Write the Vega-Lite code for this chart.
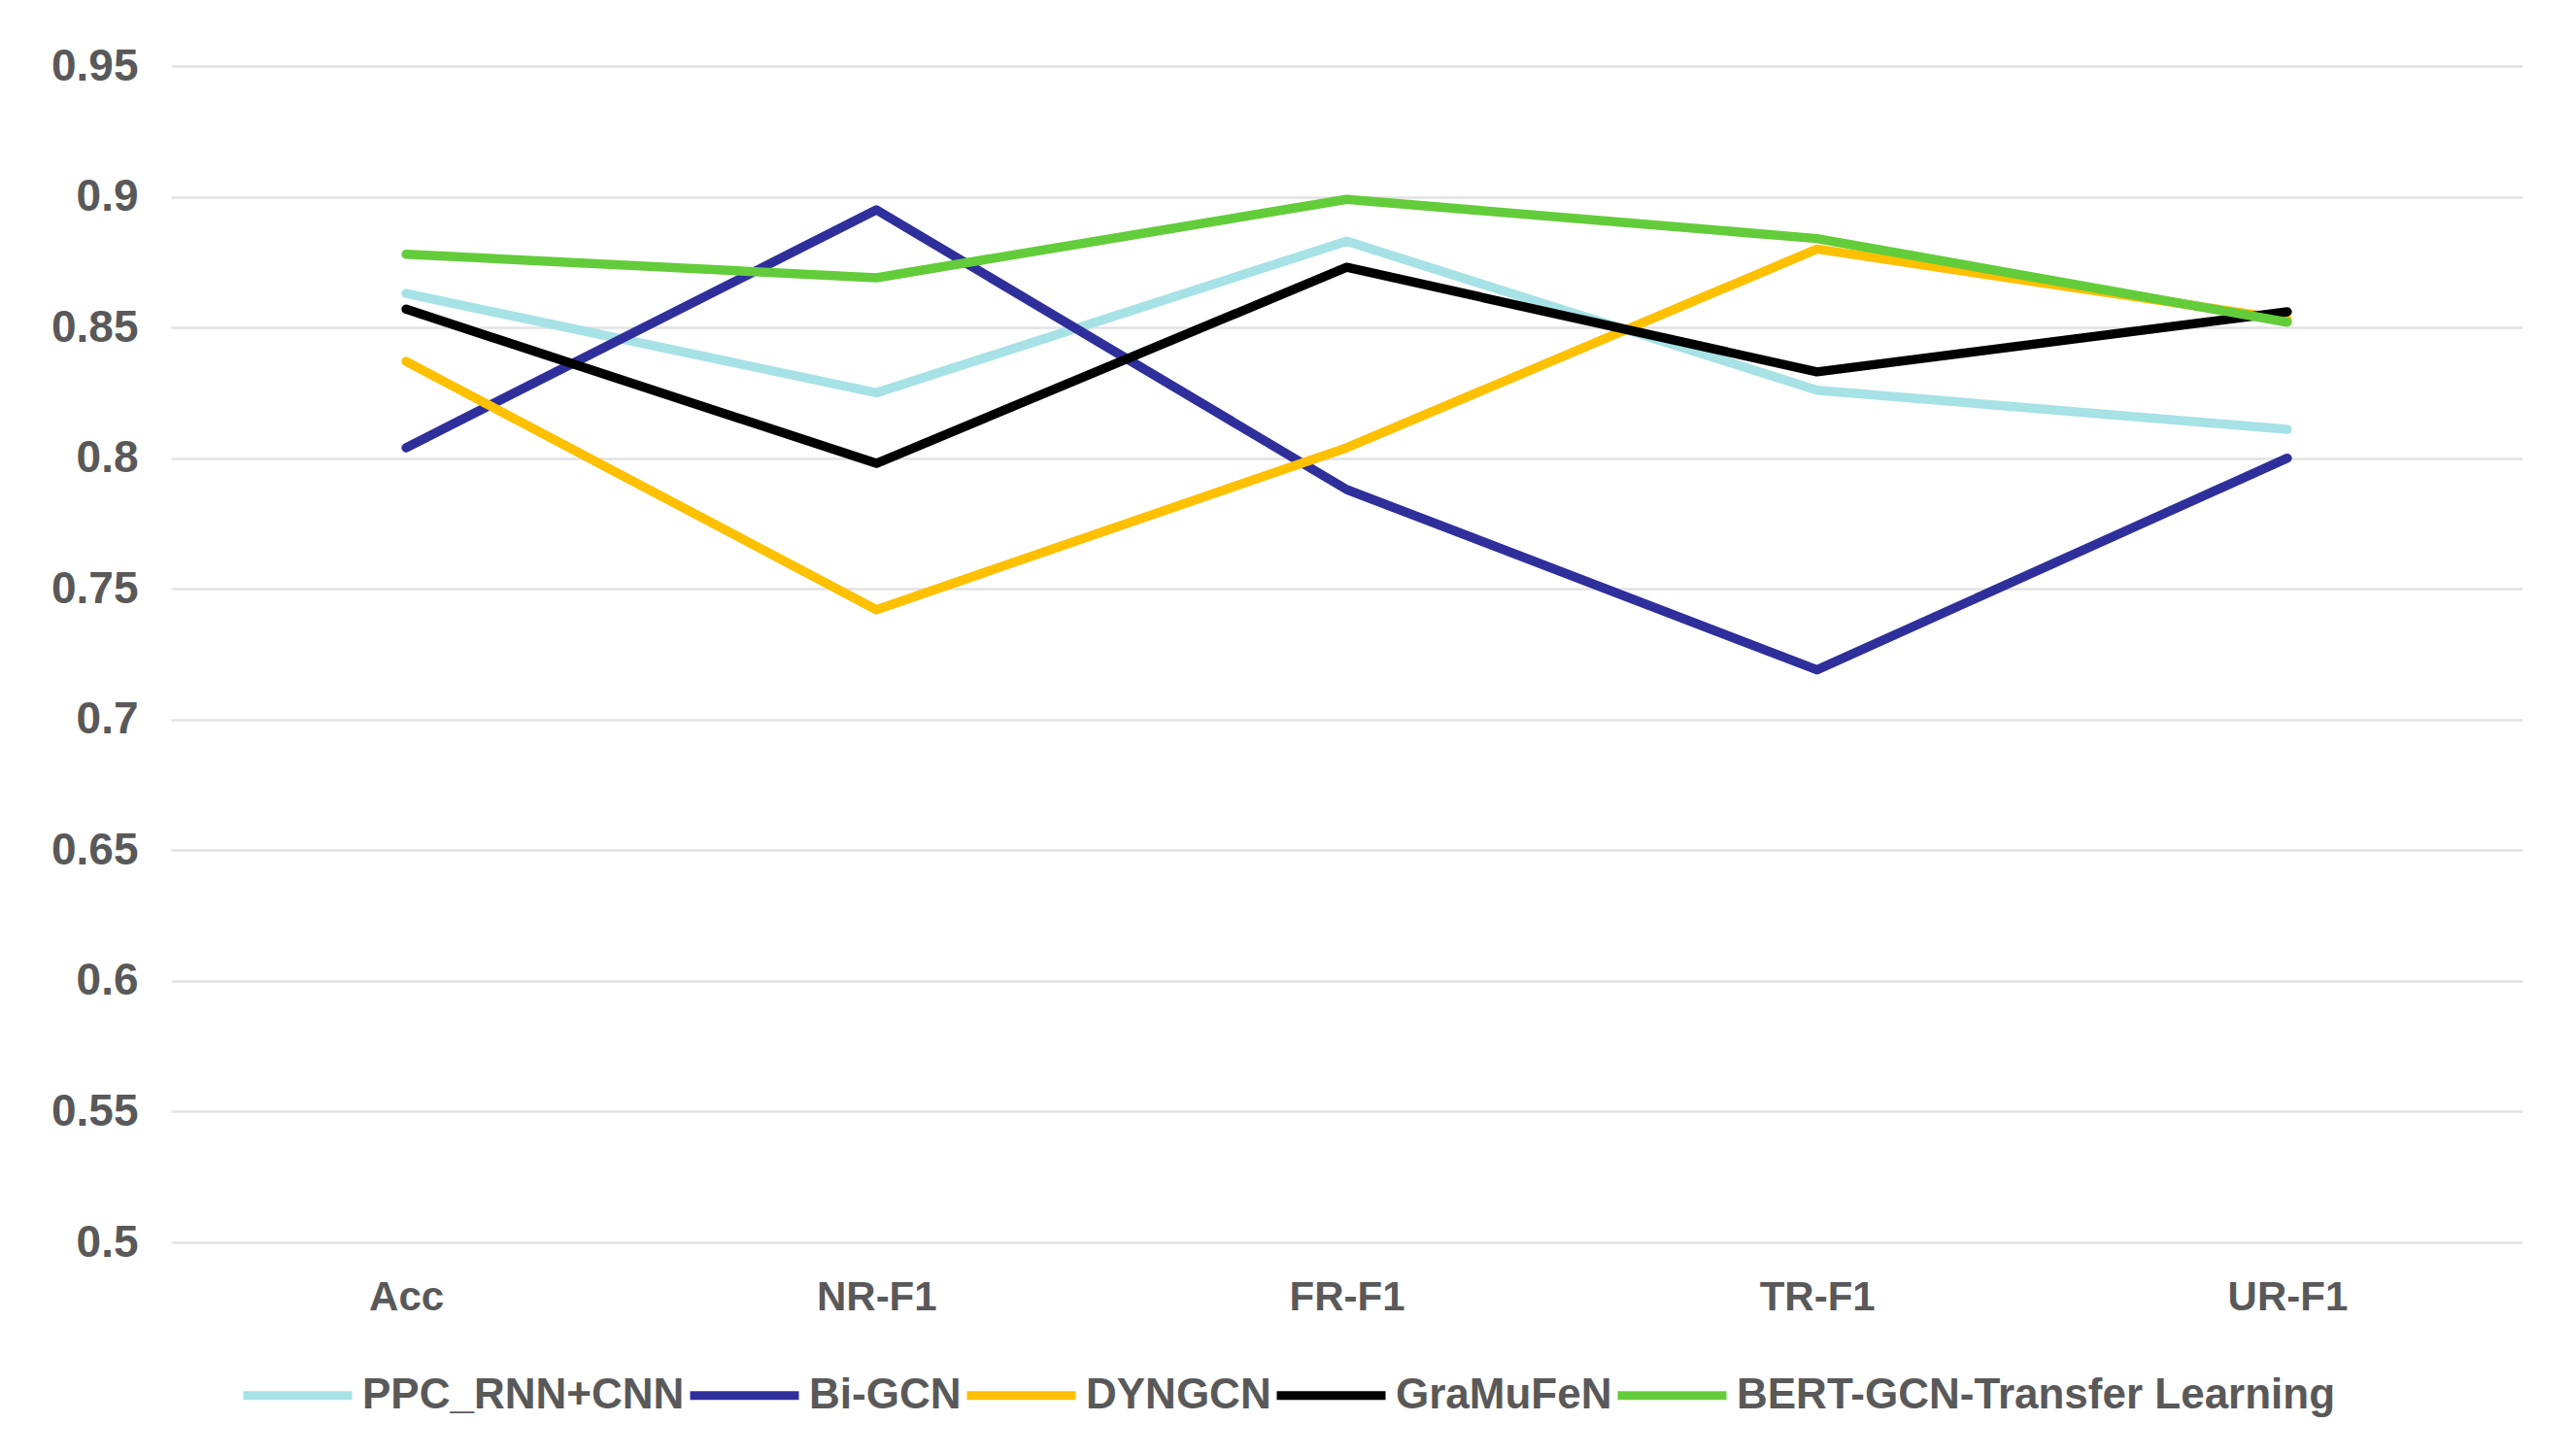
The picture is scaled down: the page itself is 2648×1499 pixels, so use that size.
{
  "$schema": "https://vega.github.io/schema/vega-lite/v6.json",
  "autosize": {"type": "none"},
  "padding": {"left": 176, "top": 68, "right": 51, "bottom": 220},
  "width": 2421,
  "height": 1211,
  "background": "white",
  "config": {
    "view": {"stroke": null},
    "font": "Liberation Sans"
  },
  "data": {
    "values": [
      {"metric": "Acc", "model": "PPC_RNN+CNN", "value": 0.863},
      {"metric": "NR-F1", "model": "PPC_RNN+CNN", "value": 0.825},
      {"metric": "FR-F1", "model": "PPC_RNN+CNN", "value": 0.883},
      {"metric": "TR-F1", "model": "PPC_RNN+CNN", "value": 0.826},
      {"metric": "UR-F1", "model": "PPC_RNN+CNN", "value": 0.811},
      {"metric": "Acc", "model": "Bi-GCN", "value": 0.804},
      {"metric": "NR-F1", "model": "Bi-GCN", "value": 0.895},
      {"metric": "FR-F1", "model": "Bi-GCN", "value": 0.788},
      {"metric": "TR-F1", "model": "Bi-GCN", "value": 0.719},
      {"metric": "UR-F1", "model": "Bi-GCN", "value": 0.8},
      {"metric": "Acc", "model": "DYNGCN", "value": 0.837},
      {"metric": "NR-F1", "model": "DYNGCN", "value": 0.742},
      {"metric": "FR-F1", "model": "DYNGCN", "value": 0.804},
      {"metric": "TR-F1", "model": "DYNGCN", "value": 0.88},
      {"metric": "UR-F1", "model": "DYNGCN", "value": 0.853},
      {"metric": "Acc", "model": "GraMuFeN", "value": 0.857},
      {"metric": "NR-F1", "model": "GraMuFeN", "value": 0.798},
      {"metric": "FR-F1", "model": "GraMuFeN", "value": 0.873},
      {"metric": "TR-F1", "model": "GraMuFeN", "value": 0.833},
      {"metric": "UR-F1", "model": "GraMuFeN", "value": 0.856},
      {"metric": "Acc", "model": "BERT-GCN-Transfer Learning", "value": 0.878},
      {"metric": "NR-F1", "model": "BERT-GCN-Transfer Learning", "value": 0.869},
      {"metric": "FR-F1", "model": "BERT-GCN-Transfer Learning", "value": 0.899},
      {"metric": "TR-F1", "model": "BERT-GCN-Transfer Learning", "value": 0.884},
      {"metric": "UR-F1", "model": "BERT-GCN-Transfer Learning", "value": 0.852}
    ]
  },
  "mark": {"type": "line", "strokeWidth": 9.5, "strokeCap": "round", "strokeJoin": "round"},
  "encoding": {
    "x": {
      "field": "metric",
      "type": "nominal",
      "sort": ["Acc", "NR-F1", "FR-F1", "TR-F1", "UR-F1"],
      "scale": {"type": "point", "padding": 0.5},
      "axis": {
        "title": null,
        "domain": false,
        "ticks": false,
        "grid": false,
        "labelAngle": 0,
        "labelFont": "Liberation Sans",
        "labelFontWeight": "bold",
        "labelFontSize": 42,
        "labelColor": "#595959",
        "labelPadding": 36
      }
    },
    "y": {
      "field": "value",
      "type": "quantitative",
      "scale": {"domain": [0.5, 0.95], "nice": false, "zero": false},
      "axis": {
        "title": null,
        "values": [0.5, 0.55, 0.6, 0.65, 0.7, 0.75, 0.8, 0.85, 0.9, 0.95],
        "format": "~g",
        "domain": false,
        "ticks": false,
        "grid": true,
        "gridColor": "#e2e2e2",
        "gridWidth": 2.5,
        "labelFont": "Liberation Sans",
        "labelFontWeight": "bold",
        "labelFontSize": 46,
        "labelColor": "#595959",
        "labelPadding": 34
      }
    },
    "color": {
      "field": "model",
      "type": "nominal",
      "sort": ["PPC_RNN+CNN", "Bi-GCN", "DYNGCN", "GraMuFeN", "BERT-GCN-Transfer Learning"],
      "scale": {
        "domain": ["PPC_RNN+CNN", "Bi-GCN", "DYNGCN", "GraMuFeN", "BERT-GCN-Transfer Learning"],
        "range": ["#A6E2E6", "#2F2F9C", "#FFC000", "#000000", "#63CC3A"]
      },
      "legend": {
        "title": null,
        "orient": "none",
        "legendX": 70,
        "legendY": 1308,
        "direction": "horizontal",
        "columns": 5,
        "symbolType": "stroke",
        "symbolSize": 12544,
        "symbolStrokeWidth": 9,
        "labelFont": "Liberation Sans",
        "labelFontWeight": "bold",
        "labelFontSize": 44,
        "labelColor": "#595959",
        "labelOffset": 6,
        "columnPadding": -13,
        "labelLimit": 1000
      }
    }
  }
}
